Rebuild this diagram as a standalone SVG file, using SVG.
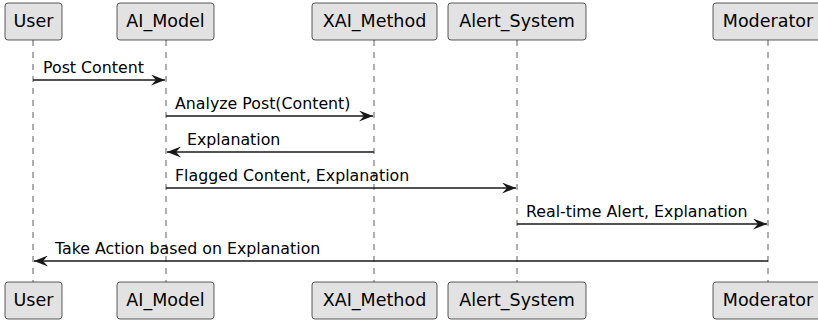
<svg xmlns="http://www.w3.org/2000/svg" width="818" height="324" viewBox="0 0 818 324">
<defs>
<style>
.box{fill:#E2E2E2;stroke:#181818;stroke-width:0.7}
.pt{font-family:"DejaVu Sans",sans-serif;font-size:17.5px;fill:#000;text-anchor:middle}
.life{stroke:#181818;stroke-width:0.7;stroke-dasharray:6,6;fill:none}
.msg{stroke:#181818;stroke-width:1.3;fill:none}
.ml{font-family:"DejaVu Sans",sans-serif;font-size:15.8px;fill:#000}
</style>
<marker id="ah" viewBox="0 0 14 11" refX="14" refY="5.5" markerWidth="14" markerHeight="11" markerUnits="userSpaceOnUse" orient="auto">
<polygon points="0,0 14,5.5 0,11 5,5.5" fill="#181818"/>
</marker>
</defs>
<rect width="818" height="324" fill="#FFFFFF"/>
<g id="lifelines">
<line class="life" x1="33" y1="40" x2="33" y2="282"/>
<line class="life" x1="166" y1="40" x2="166" y2="282"/>
<line class="life" x1="374" y1="40" x2="374" y2="282"/>
<line class="life" x1="517" y1="40" x2="517" y2="282"/>
<line class="life" x1="768" y1="40" x2="768" y2="282"/>
</g>
<g id="User">
<rect class="box" x="5" y="3" width="57" height="37" rx="3"/>
<text class="pt" x="33.5" y="27">User</text>
<rect class="box" x="5" y="282" width="57" height="37" rx="3"/>
<text class="pt" x="33.5" y="306">User</text>
</g>
<g id="AI_Model">
<rect class="box" x="117" y="3" width="97" height="37" rx="3"/>
<text class="pt" x="165.5" y="27">AI_Model</text>
<rect class="box" x="117" y="282" width="97" height="37" rx="3"/>
<text class="pt" x="165.5" y="306">AI_Model</text>
</g>
<g id="XAI_Method">
<rect class="box" x="312" y="3" width="125" height="37" rx="3"/>
<text class="pt" x="374.5" y="27">XAI_Method</text>
<rect class="box" x="312" y="282" width="125" height="37" rx="3"/>
<text class="pt" x="374.5" y="306">XAI_Method</text>
</g>
<g id="Alert_System">
<rect class="box" x="448" y="3" width="138" height="37" rx="3"/>
<text class="pt" x="517" y="27">Alert_System</text>
<rect class="box" x="448" y="282" width="138" height="37" rx="3"/>
<text class="pt" x="517" y="306">Alert_System</text>
</g>
<g id="Moderator">
<rect class="box" x="713" y="3" width="110" height="37" rx="3"/>
<text class="pt" x="768" y="27">Moderator</text>
<rect class="box" x="713" y="282" width="110" height="37" rx="3"/>
<text class="pt" x="768" y="306">Moderator</text>
</g>
<g id="connectors">
<line class="msg" x1="33" y1="80" x2="165" y2="80" marker-end="url(#ah)"/>
<text class="ml" x="43" y="73">Post Content</text>
<line class="msg" x1="166" y1="116" x2="373" y2="116" marker-end="url(#ah)"/>
<text class="ml" x="175" y="109">Analyze Post(Content)</text>
<line class="msg" x1="374" y1="152" x2="167" y2="152" marker-end="url(#ah)"/>
<text class="ml" x="187" y="145">Explanation</text>
<line class="msg" x1="166" y1="188" x2="516" y2="188" marker-end="url(#ah)"/>
<text class="ml" x="175" y="181">Flagged Content, Explanation</text>
<line class="msg" x1="517" y1="224" x2="767" y2="224" marker-end="url(#ah)"/>
<text class="ml" x="526" y="217">Real-time Alert, Explanation</text>
<line class="msg" x1="768" y1="261" x2="34" y2="261" marker-end="url(#ah)"/>
<text class="ml" x="55" y="254">Take Action based on Explanation</text>
</g>
</svg>
